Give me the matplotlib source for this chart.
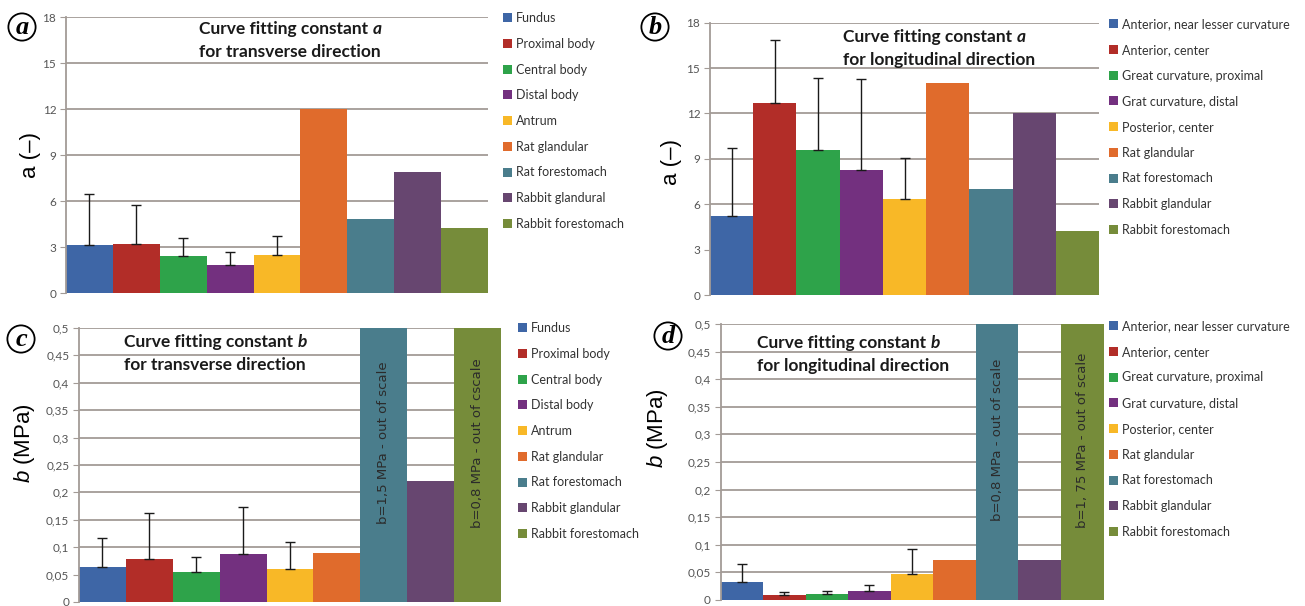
import matplotlib
matplotlib.use("Agg")
import matplotlib.pyplot as plt
import numpy as np

plt.rcParams['mathtext.fontset'] = 'custom'
plt.rcParams['mathtext.it'] = 'Liberation Sans:italic'
plt.rcParams['mathtext.rm'] = 'Liberation Sans'

# ---------------- data ----------------
human_trans = ["Fundus", "Proximal body", "Central body", "Distal body", "Antrum"]
human_long = ["Anterior, near lesser curvature", "Anterior, center",
              "Great curvature, proximal", "Grat curvature, distal", "Posterior, center"]
animals_a = ["Rat glandular", "Rat forestomach", "Rabbit glandural", "Rabbit forestomach"]
animals_b = ["Rat glandular", "Rat forestomach", "Rabbit glandular", "Rabbit forestomach"]

a_trans = [3.15, 3.2, 2.4, 1.8, 2.45, 12.0, 4.8, 7.9, 4.25]
a_trans_err = [3.3, 2.55, 1.2, 0.9, 1.3]
a_long = [5.25, 12.7, 9.6, 8.25, 6.35, 14.0, 7.0, 12.0, 4.25]
a_long_err = [4.45, 4.15, 4.75, 6.05, 2.7]
b_trans = [0.063, 0.078, 0.055, 0.087, 0.061, 0.09, 1.5, 0.22, 0.8]
b_trans_err = [0.054, 0.085, 0.027, 0.086, 0.048]
b_long = [0.032, 0.009, 0.011, 0.016, 0.047, 0.072, 0.8, 0.072, 1.75]
b_long_err = [0.033, 0.006, 0.006, 0.011, 0.045]

a_ticks = [0, 3, 6, 9, 12, 15, 18]
b_ticks = [0, 0.05, 0.1, 0.15, 0.2, 0.25, 0.3, 0.35, 0.4, 0.45, 0.5]
b_ticklabels = ["0", "0,05", "0,1", "0,15", "0,2", "0,25", "0,3", "0,35", "0,4", "0,45", "0,5"]

notes_c = {6: "b=1,5 MPa - out of scale", 8: "b=0,8 MPa - out of cscale"}
notes_d = {6: "b=0,8 MPa - out of scale", 8: "b=1, 75 MPa - out of scale"}

colors = ["#3E66A6", "#B22D28", "#2EA34A", "#73307F", "#F8B827",
          "#E06B2C", "#4A7D8C", "#674670", "#768C3A"]

W, H = 1305, 606
fig = plt.figure(figsize=(W / 100, H / 100), dpi=100)


def px_axes(l, r, t, b):
    return fig.add_axes([l / W, 1 - b / H, (r - l) / W, (b - t) / H])


GRID = "#A39B96"
TICKC = "#555555"


def panel(ax, vals, errs, labels, ticks, ticklabels, ymax, title_main, title_var,
          title_line2, title_xy, leg_xy, notes=None):
    x = np.arange(len(vals))
    ax.set_xlim(-0.5, len(vals) - 0.5)
    ax.set_ylim(0, ymax)
    for tk in ticks:
        ax.axhline(tk, color=GRID, lw=1.3, zorder=0)
    bars = ax.bar(x, vals, width=1.0, color=colors, zorder=2)
    ne = len(errs)
    ax.errorbar(x[:ne], vals[:ne], yerr=[np.zeros(ne), errs], fmt='none',
                ecolor='#1a1a1a', elinewidth=1.0, capsize=3.5, capthick=1.0, zorder=3)
    ax.set_xticks([])
    ax.set_yticks(ticks)
    ax.set_yticklabels(ticklabels, fontsize=8.5, color=TICKC, family='Lato')
    ax.tick_params(axis='y', length=4, color=GRID, pad=3)
    for s in ['top', 'right', 'bottom']:
        ax.spines[s].set_visible(False)
    ax.spines['left'].set_color(GRID)
    ax.spines['left'].set_linewidth(1.3)
    ax.patch.set_alpha(0)
    # title
    tx, ty1, ty2 = title_xy
    t = fig.text(tx / W, 1 - ty1 / H, title_main, fontsize=12.5, weight='bold',
                 family='Lato', color='#1a1a1a', va='center', ha='left')
    ax.annotate(title_var, xy=(1, 0.5), xycoords=t, va='center', ha='left',
                fontsize=12.5, weight='bold', style='italic', family='Lato',
                color='#1a1a1a', annotation_clip=False)
    fig.text(tx / W, 1 - ty2 / H, title_line2, fontsize=12.5, weight='bold',
             family='Lato', color='#1a1a1a', va='center', ha='left')
    if notes:
        for i, s in notes.items():
            ax.text(x[i], 0.29, s, rotation=90, ha='center', va='center',
                    fontsize=9.5, color='#2b2b2b', family='DejaVu Sans', zorder=4)
    lx, ly = leg_xy
    leg = ax.legend(bars, labels, loc='upper left',
                    bbox_to_anchor=(lx / W, 1 - ly / H), bbox_transform=fig.transFigure,
                    frameon=False, prop={'family': 'Lato', 'size': 9},
                    handlelength=0.75, handleheight=0.75, handletextpad=0.3,
                    labelspacing=1.1, borderpad=0, borderaxespad=0)
    for txt in leg.get_texts():
        txt.set_color('#333333')
    return bars


# panel a
ax_a = px_axes(66, 488, 17.3, 293)
panel(ax_a, a_trans, a_trans_err, human_trans + animals_a, a_ticks,
      [str(v) for v in a_ticks], 18, "Curve fitting constant ", "a",
      "for transverse direction", (199, 29, 52), (503, 12))
# panel b
ax_b = px_axes(710, 1099, 22.7, 295)
panel(ax_b, a_long, a_long_err, human_long + animals_b, a_ticks,
      [str(v) for v in a_ticks], 18, "Curve fitting constant ", "a",
      "for longitudinal direction", (843, 37, 60), (1109, 18))
# panel c
ax_c = px_axes(79, 501, 328, 602)
panel(ax_c, b_trans, b_trans_err, human_trans + animals_b, b_ticks, b_ticklabels,
      0.5, "Curve fitting constant ", "b", "for transverse direction",
      (124, 342, 365), (518, 322), notes_c)
# panel d
ax_d = px_axes(720.5, 1103.5, 324, 600)
panel(ax_d, b_long, b_long_err, human_long + animals_b, b_ticks, b_ticklabels,
      0.5, "Curve fitting constant ", "b", "for longitudinal direction",
      (757, 343, 366), (1109, 320), notes_d)

# y labels
fig.text(31 / W, 1 - 155 / H, "a (–)", rotation=90, ha='center', va='center',
         fontsize=16, family='Liberation Sans')
fig.text(671 / W, 1 - 162 / H, "a (–)", rotation=90, ha='center', va='center',
         fontsize=16, family='Liberation Sans')
fig.text(25 / W, 1 - 443 / H, r"$\it{b}$ (MPa)", rotation=90, ha='center', va='center',
         fontsize=16, family='Liberation Sans')
fig.text(657 / W, 1 - 428 / H, r"$\it{b}$ (MPa)", rotation=90, ha='center', va='center',
         fontsize=16, family='Liberation Sans')

# panel letters
for s, (px, py) in zip("abcd", [(22, 27), (655, 27), (21, 339), (668, 336)]):
    fig.text(px / W, 1 - py / H, s, ha='center', va='center', fontsize=19,
             family='Liberation Serif', style='italic', weight='bold',
             bbox=dict(boxstyle='circle,pad=0.08', fc='white', ec='black', lw=1.3))

fig.savefig("out.png", dpi=100)
